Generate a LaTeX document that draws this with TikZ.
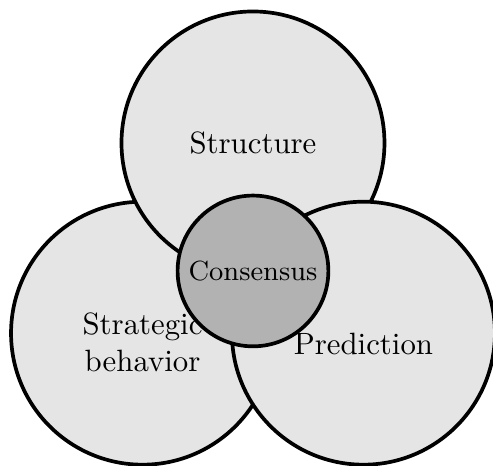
\documentclass[tikz,border=0pt]{standalone}
\usepackage{tikz}
\usetikzlibrary{positioning}

\begin{document}
\begin{tikzpicture}[very thick,
    venn/.style={circle, draw, fill=gray!20, minimum size=3cm, inner sep=0pt},
    coeur/.style={circle, draw, fill=gray!60, minimum size=1.72cm, inner sep=0pt, font=\small}]

    \useasboundingbox (-2.886,-2.224) rectangle (2.738,3.091);

    % Les trois grands cercles
    \node[venn] (strat) at (-1.26,-0.71) {};
    \node[venn] (struct) at (0,1.46) {};
    \node[venn] (pred) at (1.26,-0.71) {};

    % Étiquettes des cercles
    \node (lstruct) at (struct.center) {Structure};
    \node[align=center] (lstrat) at ([yshift=-1mm]strat.center) {Strategic\\behavior};
    \node (lpred) at ([yshift=-1.2mm]pred.center) {Prediction};

    % Cercle central
    \node[coeur] (cons) at (0,0) {Consensus};

\end{tikzpicture}
\end{document}
